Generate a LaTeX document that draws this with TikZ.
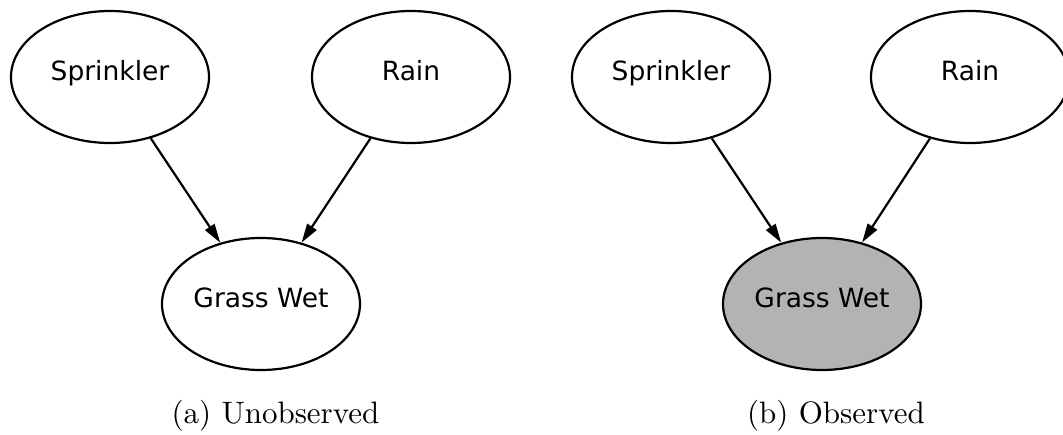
\documentclass[tikz,border=0pt]{standalone}
\usepackage{fontspec}
\newfontfamily\nodefont{DejaVu Sans}
\newfontfamily\capfont{lmroman10-regular.otf}
\usetikzlibrary{arrows.meta,shapes.geometric}
\definecolor{obsgray}{RGB}{179,179,179}
\tikzset{
  var/.style={ellipse, draw=black, line width=2.2pt, minimum width=198pt,
    minimum height=132pt, inner sep=0pt, font=\nodefont\fontsize{26.5}{30}\selectfont,
    text height=0.76em, text depth=0.1em},
  observed/.style={var, fill=obsgray},
  edge/.style={line width=2.2pt, -{Triangle[length=19pt,width=11pt]}},
  caption/.style={anchor=base, inner sep=0pt, font=\capfont\fontsize{31}{36}\selectfont}
}
\begin{document}
\begin{tikzpicture}[x=1pt,y=-1pt]
  \useasboundingbox (0,0) rectangle (1063,435);
  % (a) nothing observed
  \node[var] (s1) at (110,77) {Sprinkler};
  \node[var] (r1) at (411,77) {Rain};
  \node[var] (g1) at (261,304) {Grass Wet};
  \draw[edge] (s1) -- (g1);
  \draw[edge] (r1) -- (g1);
  \node[caption] (c1) at (275.5,424) {(a) Unobserved};
  % (b) grass wetness observed
  \node[var] (s2) at (671,77) {Sprinkler};
  \node[var] (r2) at (970,77) {Rain};
  \node[observed] (g2) at (822,304) {Grass Wet};
  \draw[edge] (s2) -- (g2);
  \draw[edge] (r2) -- (g2);
  \node[caption] (c2) at (836,424) {(b) Observed};
\end{tikzpicture}
\end{document}
